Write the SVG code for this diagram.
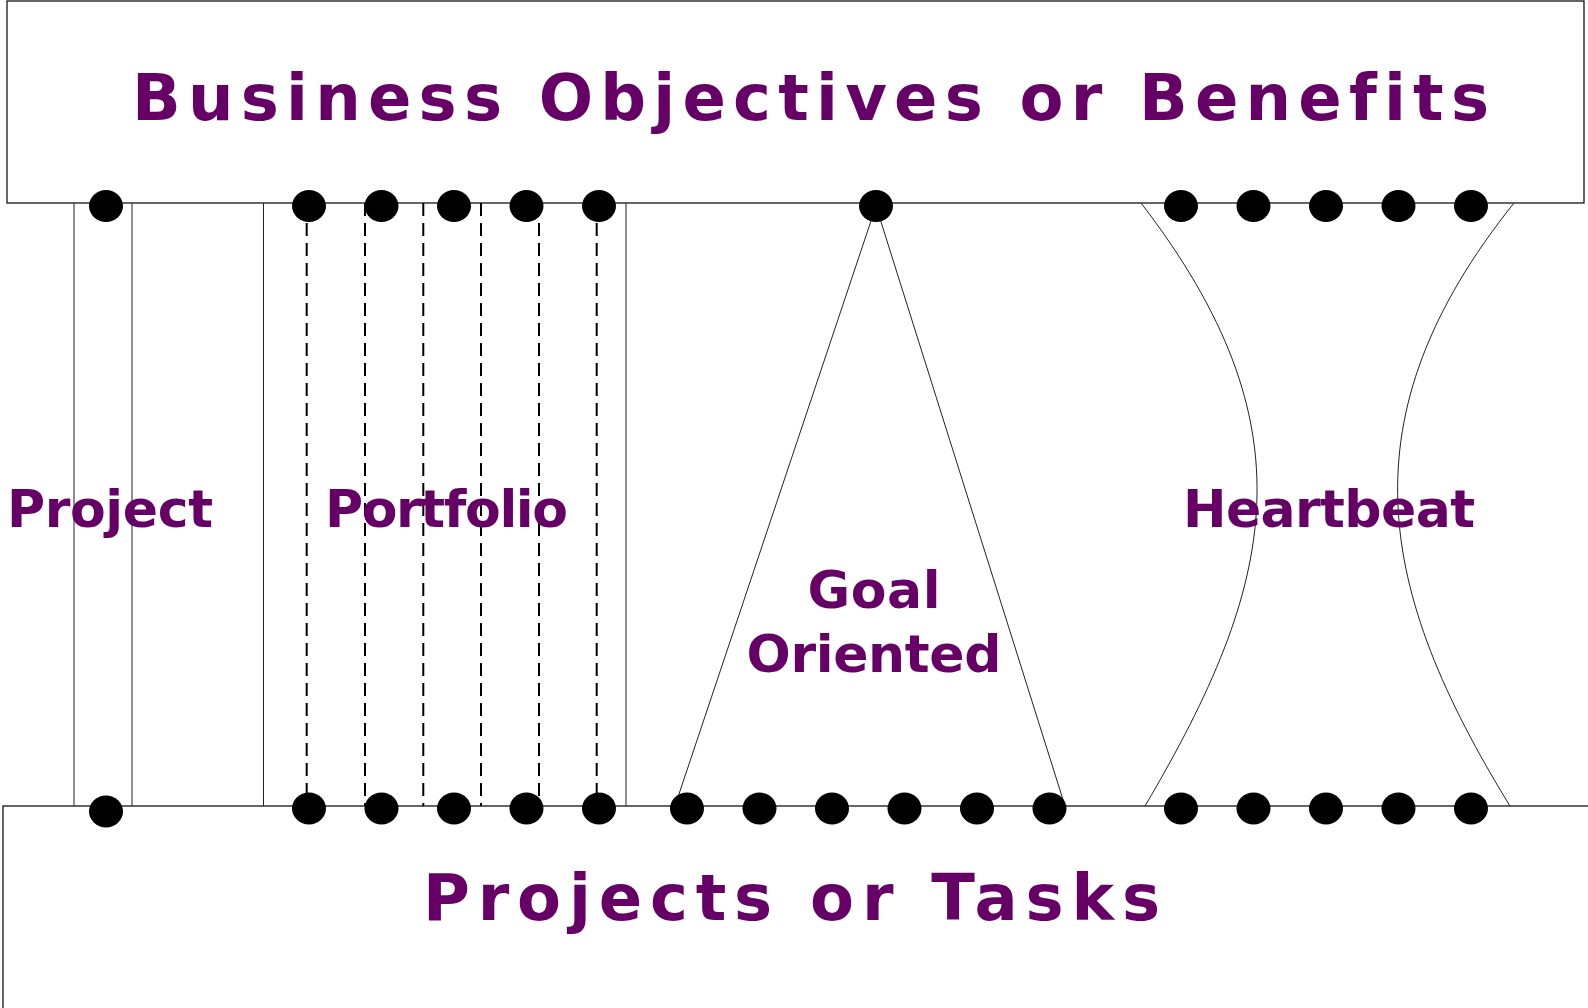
<svg xmlns="http://www.w3.org/2000/svg" width="1588" height="1008" viewBox="0 0 1588 1008">
<style>
.box{fill:#fff;stroke:#000;stroke-width:1.2}
.ln{fill:none;stroke:#222;stroke-width:1}
.dash{fill:none;stroke:#000;stroke-width:2;stroke-dasharray:13 7}
.dot{fill:#000}
.big{font-family:"DejaVu Sans","Liberation Sans",Arial,sans-serif;font-weight:bold;font-size:64px;fill:#660066;font-variant-ligatures:none}
.lbl{font-family:"DejaVu Sans","Liberation Sans",Arial,sans-serif;font-weight:bold;font-size:52px;fill:#660066;font-variant-ligatures:none}
</style>
<rect width="1588" height="1008" fill="#fff"/>
<g id="top-box">
<rect class="box" x="7" y="1" width="1577" height="202"/>
<text class="big" x="810.5" y="120" text-anchor="middle" textLength="1357" lengthAdjust="spacing">Business Objectives or Benefits</text>
</g>
<g id="bottom-box">
<rect class="box" x="3" y="806" width="1600" height="220"/>
<text class="big" x="791.5" y="920" text-anchor="middle" textLength="737" lengthAdjust="spacing">Projects or Tasks</text>
</g>
<g id="connectors">
<line class="ln" x1="74" y1="203" x2="74" y2="806"/>
<line class="ln" x1="132" y1="203" x2="132" y2="806"/>
<line class="ln" x1="263.5" y1="203" x2="263.5" y2="806"/>
<line class="ln" x1="626" y1="203" x2="626" y2="806"/>
<line class="dash" x1="306.7" y1="203" x2="306.7" y2="806"/>
<line class="dash" x1="365" y1="203" x2="365" y2="806"/>
<line class="dash" x1="423.3" y1="203" x2="423.3" y2="806"/>
<line class="dash" x1="481" y1="203" x2="481" y2="806"/>
<line class="dash" x1="539" y1="203" x2="539" y2="806"/>
<line class="dash" x1="596.7" y1="203" x2="596.7" y2="806"/>
<line class="ln" x1="876" y1="206" x2="678" y2="797"/>
<line class="ln" x1="876" y1="206" x2="1065" y2="806"/>
<path class="ln" d="M1141,203 C1312.7,426 1276.6,583 1145,806"/>
<path class="ln" d="M1514,203 C1342,418 1377.8,591 1510,806"/>
</g>
<g id="project">
<ellipse class="dot" cx="106" cy="206" rx="17" ry="16"/>
<ellipse class="dot" cx="106" cy="811.5" rx="17" ry="16"/>
<text class="lbl" x="110" y="527" text-anchor="middle" textLength="206" lengthAdjust="spacing">Project</text>
</g>
<g id="portfolio">
<ellipse class="dot" cx="309" cy="206" rx="17" ry="16"/>
<ellipse class="dot" cx="381.5" cy="206" rx="17" ry="16"/>
<ellipse class="dot" cx="454" cy="206" rx="17" ry="16"/>
<ellipse class="dot" cx="526.5" cy="206" rx="17" ry="16"/>
<ellipse class="dot" cx="599" cy="206" rx="17" ry="16"/>
<ellipse class="dot" cx="309" cy="808.5" rx="17" ry="16"/>
<ellipse class="dot" cx="381.5" cy="808.5" rx="17" ry="16"/>
<ellipse class="dot" cx="454" cy="808.5" rx="17" ry="16"/>
<ellipse class="dot" cx="526.5" cy="808.5" rx="17" ry="16"/>
<ellipse class="dot" cx="599" cy="808.5" rx="17" ry="16"/>
<text class="lbl" x="446.5" y="527" text-anchor="middle" textLength="243" lengthAdjust="spacing">Portfolio</text>
</g>
<g id="goal-oriented">
<ellipse class="dot" cx="876" cy="206" rx="17" ry="16"/>
<ellipse class="dot" cx="687" cy="808.5" rx="17" ry="16"/>
<ellipse class="dot" cx="759.5" cy="808.5" rx="17" ry="16"/>
<ellipse class="dot" cx="832" cy="808.5" rx="17" ry="16"/>
<ellipse class="dot" cx="904.5" cy="808.5" rx="17" ry="16"/>
<ellipse class="dot" cx="977" cy="808.5" rx="17" ry="16"/>
<ellipse class="dot" cx="1049.5" cy="808.5" rx="17" ry="16"/>
<text class="lbl" x="874" y="608" text-anchor="middle" textLength="133" lengthAdjust="spacing">Goal</text>
<text class="lbl" x="874" y="672" text-anchor="middle" textLength="255" lengthAdjust="spacing">Oriented</text>
</g>
<g id="heartbeat">
<ellipse class="dot" cx="1181" cy="206" rx="17" ry="16"/>
<ellipse class="dot" cx="1253.5" cy="206" rx="17" ry="16"/>
<ellipse class="dot" cx="1326" cy="206" rx="17" ry="16"/>
<ellipse class="dot" cx="1398.5" cy="206" rx="17" ry="16"/>
<ellipse class="dot" cx="1471" cy="206" rx="17" ry="16"/>
<ellipse class="dot" cx="1181" cy="808.5" rx="17" ry="16"/>
<ellipse class="dot" cx="1253.5" cy="808.5" rx="17" ry="16"/>
<ellipse class="dot" cx="1326" cy="808.5" rx="17" ry="16"/>
<ellipse class="dot" cx="1398.5" cy="808.5" rx="17" ry="16"/>
<ellipse class="dot" cx="1471" cy="808.5" rx="17" ry="16"/>
<text class="lbl" x="1329" y="527" text-anchor="middle" textLength="292" lengthAdjust="spacing">Heartbeat</text>
</g>
</svg>
